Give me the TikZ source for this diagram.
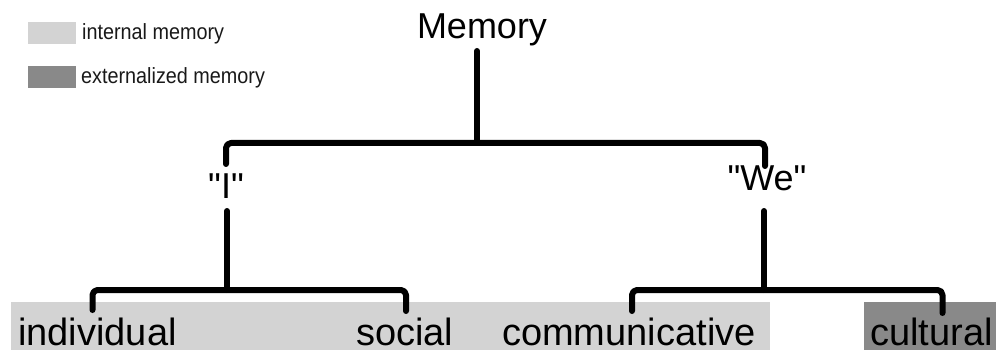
\documentclass[tikz,border=0pt]{standalone}
\usepackage{fontspec}
\setmainfont{Liberation Sans}
\usepackage{graphicx}

\definecolor{internalgray}{HTML}{D3D3D3}
\definecolor{externalgray}{HTML}{898989}

\begin{document}
\begin{tikzpicture}[x=1pt,y=-1pt,
  treeline/.style={line width=6pt, line cap=round, line join=round, rounded corners=5pt, black},
  biglabel/.style={inner sep=0pt, font=\fontsize{36}{40}\selectfont},
  leaflabel/.style={inner sep=0pt, anchor=base west, font=\fontsize{38}{44}\selectfont},
  keylabel/.style={inner sep=0pt, anchor=base west, text=black!90, font=\fontsize{22}{26}\selectfont},
  keybox/.style={draw=none, minimum width=48pt, minimum height=22pt, inner sep=0pt, anchor=north west}]
\useasboundingbox (0,0) rectangle (996,350);

% legend
\node[keybox, fill=internalgray] (keyint) at (28,22) {};
\node[keybox, fill=externalgray] (keyext) at (28,66) {};
\node[keylabel] (keyinttext) at (82,40) {\scalebox{0.9}[1]{internal memory}};
\node[keylabel] (keyexttext) at (81,84) {\scalebox{0.9}[1]{externalized memory}};

% shaded bands behind the leaves
\fill[internalgray] (11,302) rectangle (770,350);
\fill[externalgray] (864,302) rectangle (996,350);

% labels
\node[biglabel, anchor=base] (mem) at (482,39) {Memory};
\node[biglabel, anchor=base] (I) at (226,198) {\textquotedbl I\textquotedbl};
\node[biglabel, anchor=base] (We) at (767,190) {\textquotedbl We\textquotedbl};
\node[leaflabel] (individual) at (18,345) {individual};
\node[leaflabel] (social) at (356,345) {social};
\node[leaflabel] (communicative) at (502,345) {communicative};
\node[leaflabel] (cultural) at (870,345) {cultural};

% junction points of the tree
\coordinate (memstem) at (477,51);
\coordinate (memhub) at (477,143);
\coordinate (Iup) at (226,164);
\coordinate (Weup) at (765,166);
\coordinate (Idown) at (227,211);
\coordinate (Ihub) at (227,290);
\coordinate (Wedown) at (764,211);
\coordinate (Wehub) at (764,290);
\coordinate (indup) at (92.5,310);
\coordinate (socup) at (406,311);
\coordinate (comup) at (632,311);
\coordinate (culup) at (942.5,313);

% connectors
\draw[treeline] (memstem) -- (memhub);
\draw[treeline] (Iup) |- (memhub) -| (Weup);
\draw[treeline] (Idown) -- (Ihub);
\draw[treeline] (indup) |- (Ihub) -| (socup);
\draw[treeline] (Wedown) -- (Wehub);
\draw[treeline] (comup) |- (Wehub) -| (culup);
\end{tikzpicture}
\end{document}
